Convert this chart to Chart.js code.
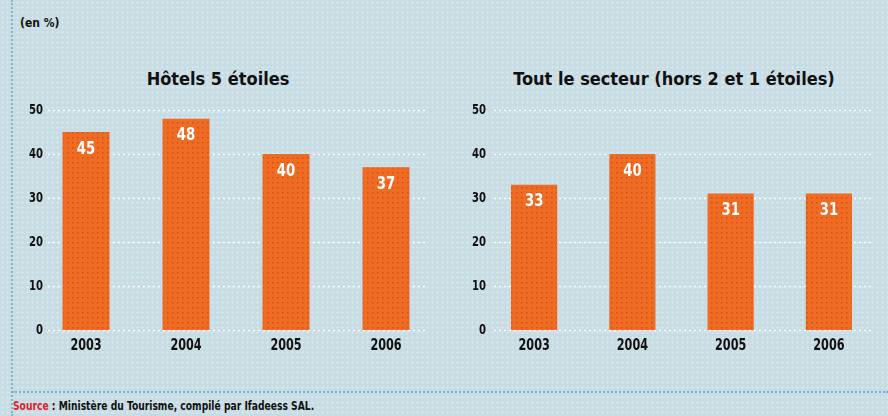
<!DOCTYPE html>
<html>
<head>
<meta charset="utf-8">
<script src="https://cdn.jsdelivr.net/npm/chart.js@4"></script>
<style>
  html, body { margin: 0; padding: 0; }
  body {
    width: 888px; height: 416px; overflow: hidden; position: relative;
    background-color: #c8dce3;
    background-image: radial-gradient(#d6e6ec 1px, transparent 1.2px);
    background-size: 5px 5px;
    font-family: 'DejaVu Sans Condensed', 'Liberation Sans Narrow', sans-serif;
    font-weight: bold;
  }
  .vline { position: absolute; left: 11px; top: 0; height: 416px; border-left: 2px dotted #7fb6c8; }
  .hline { position: absolute; left: 12px; top: 391px; width: 876px; border-top: 2px dotted #6fb2d2; }
  .unit { position: absolute; left: 20px; top: 16px; font-size: 12px; color: #111; }
  .sub { position: absolute; top: 68px; font-size: 18px; color: #111; text-align: center; white-space: nowrap; }
  .source { position: absolute; left: 13px; top: 399px; font-size: 12px; color: #111; white-space: nowrap;
            transform: scaleX(0.85); transform-origin: left center; }
  .source span { color: #e0202a; }
  canvas { position: absolute; }
</style>
</head>
<body>
<div class="vline"></div>
<div class="hline"></div>
<div class="unit">(en %)</div>
<div class="sub" style="left:118px;width:200px;">Hôtels 5 étoiles</div>
<div class="sub" style="left:474px;width:400px;">Tout le secteur (hors 2 et 1 étoiles)</div>
<div class="source"><span>Source</span> : Ministère du Tourisme, compilé par Ifadeess SAL.</div>
<canvas id="hotels" width="444" height="270" style="left:0;top:90px;"></canvas>
<canvas id="secteur" width="444" height="270" style="left:444px;top:90px;"></canvas>
<script>
const years = ['2003', '2004', '2005', '2006'];
const hotels5 = [45, 48, 40, 37];
const secteur = [33, 40, 31, 31];
const yTicks = [0, 10, 20, 30, 40, 50];

const FONT = "'DejaVu Sans Condensed', 'Liberation Sans Narrow', sans-serif";

// orange bar fill with small red dots
function barPattern() {
  const c = document.createElement('canvas');
  c.width = 5; c.height = 5;
  const g = c.getContext('2d');
  g.fillStyle = '#ef6d22';
  g.fillRect(0, 0, 5, 5);
  g.fillStyle = '#d9481e';
  g.fillRect(2, 2, 1.5, 1.5);
  return g.createPattern(c, 'repeat');
}

// narrow heavy text: squeeze horizontally
function squeezed(ctx, text, x, y, size, sx, align, color) {
  ctx.save();
  ctx.translate(x, y);
  ctx.scale(sx, 1);
  ctx.font = 'bold ' + size + 'px ' + FONT;
  ctx.fillStyle = color;
  ctx.textAlign = align;
  ctx.textBaseline = 'middle';
  ctx.fillText(text, 0, 0);
  ctx.restore();
}

// white dotted gridlines (inset) plus the axis labels
const dotGrid = {
  id: 'dotGrid',
  beforeDatasetsDraw(chart, args, opts) {
    const ctx = chart.ctx;
    const area = chart.chartArea;
    const y = chart.scales.y;
    const x = chart.scales.x;
    ctx.save();
    ctx.strokeStyle = '#ffffff';
    ctx.lineWidth = 1.5;
    ctx.setLineDash([2, 3]);
    y.ticks.forEach(t => {
      const py = Math.round(y.getPixelForValue(t.value)) + 0.5;
      ctx.beginPath();
      ctx.moveTo(area.left + opts.inL, py);
      ctx.lineTo(area.right - opts.inR, py);
      ctx.stroke();
    });
    ctx.restore();
    y.ticks.forEach(t => {
      squeezed(ctx, String(t.value), opts.labelRight, y.getPixelForValue(t.value), 14, 0.8, 'right', '#111');
    });
    chart.data.labels.forEach((lab, i) => {
      squeezed(ctx, lab, x.getPixelForValue(i), area.bottom + 16, 16, 0.78, 'center', '#111');
    });
  }
};

// value written inside the top of each bar
const barValues = {
  id: 'barValues',
  afterDatasetsDraw(chart) {
    const meta = chart.getDatasetMeta(0);
    const vals = chart.data.datasets[0].data;
    meta.data.forEach((bar, i) => {
      squeezed(chart.ctx, String(vals[i]), bar.x, bar.y + 17, 18, 0.82, 'center', '#ffffff');
    });
  }
};

function makeChart(id, values, yWidth, labelRight, rightPad, inL, inR) {
  return new Chart(document.getElementById(id), {
    type: 'bar',
    data: {
      labels: years,
      datasets: [{
        data: values,
        backgroundColor: barPattern(),
        borderWidth: 0,
        barPercentage: 0.47,
        categoryPercentage: 1
      }]
    },
    options: {
      responsive: false,
      animation: false,
      devicePixelRatio: 1,
      layout: { padding: { top: 20, right: rightPad, bottom: 0, left: 0 } },
      plugins: {
        legend: { display: false },
        tooltip: { enabled: false },
        dotGrid: { inL: inL, inR: inR, labelRight: labelRight }
      },
      scales: {
        x: {
          grid: { display: false, drawTicks: false },
          border: { display: false },
          ticks: { display: false },
          afterFit(s) { s.height = 30; }
        },
        y: {
          min: 0,
          max: 50,
          afterBuildTicks(s) { s.ticks = yTicks.map(v => ({ value: v })); },
          grid: { display: false, drawTicks: false },
          border: { display: false },
          ticks: { display: false },
          afterFit(s) { s.width = yWidth; }
        }
      }
    },
    plugins: [dotGrid, barValues]
  });
}

makeChart('hotels', hotels5, 36, 43, 8, 12, 11);
makeChart('secteur', secteur, 41, 42, 10, 9, 7);
</script>
</body>
</html>
